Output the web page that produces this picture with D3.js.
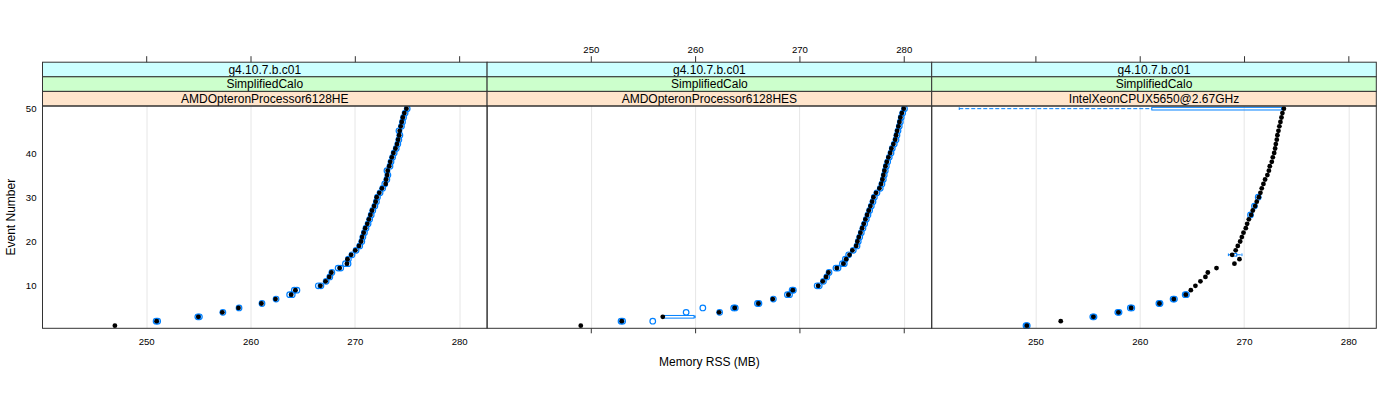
<!DOCTYPE html>
<html>
<head>
<meta charset="utf-8">
<script src="https://cdn.jsdelivr.net/npm/d3@7"></script>
<style>
  body { margin: 0; background: #fff; }
  text { font-family: "Liberation Sans", Arial, Helvetica, sans-serif; fill: #000; }
</style>
</head>
<body>
<svg id="chart" width="1400" height="400"></svg>
<script>
// conditioning levels, one per panel (outer strip first)
var releases = ["g4.10.7.b.c01", "g4.10.7.b.c01", "g4.10.7.b.c01"];
var physLists = ["SimplifiedCalo", "SimplifiedCalo", "SimplifiedCalo"];
var cpus = ["AMDOpteronProcessor6128HE", "AMDOpteronProcessor6128HES", "IntelXeonCPUX5650@2.67GHz"];

var events = d3.range(1, 51);
var xTicks = [250, 260, 270, 280];
var yTicks = [10, 20, 30, 40, 50];

// medians per event (MB)
var medHE = [247.0, 251.0, 255.0, 257.3, 258.85, 261.05, 262.4, 263.9, 264.3, 266.7,
  267.2, 267.55, 267.75, 268.55, 269.25, 269.3, 269.65, 270.05, 270.4, 270.6,
  270.7, 270.85, 271.0, 271.2, 271.35, 271.5, 271.65, 271.85, 272.0, 272.1,
  272.35, 272.6, 272.95, 273.0, 273.1, 273.15, 273.3, 273.4, 273.55, 273.7,
  273.9, 274.05, 274.15, 274.25, 274.3, 274.4, 274.5, 274.6, 274.75, 274.95];
var medHES = [249.04, 252.97, 256.9, 262.3, 263.8, 266.07, 267.45, 268.95, 269.37, 271.8,
  272.24, 272.56, 272.78, 273.59, 274.22, 274.48, 274.8, 275.08, 275.44, 275.56,
  275.7, 275.85, 276.01, 276.17, 276.33, 276.49, 276.65, 276.81, 276.97, 277.1,
  277.35, 277.67, 277.83, 277.96, 278.05, 278.15, 278.25, 278.38, 278.53, 278.7,
  278.82, 279.01, 279.18, 279.27, 279.37, 279.49, 279.59, 279.68, 279.82, 280.0];
var medX5650 = [249.18, 252.43, 255.56, 257.96, 259.18, 261.89, 263.27, 264.42, 264.9, 265.34,
  265.82, 266.3, 266.53, 267.36, 269.08, 269.56, 268.86, 269.2, 269.4, 269.63,
  269.79, 269.95, 270.17, 270.3, 270.46, 270.68, 270.84, 271.06, 271.22, 271.42,
  271.57, 271.7, 271.86, 272.02, 272.24, 272.38, 272.47, 272.66, 272.76, 272.89,
  272.98, 273.05, 273.14, 273.2, 273.3, 273.39, 273.49, 273.59, 273.68, 273.82];

// outliers: [event, MB]
var outHE = [[2,251.1],[2,250.95],[3,255.1],[3,254.95],[4,257.35],[5,258.9],[6,261.1],[7,262.45],
  [8,263.75],[8,264.0],[9,264.2],[9,264.45],[10,266.5],[10,266.75],[11,267.25],[12,267.6],
  [13,267.8],[14,268.4],[14,268.65],[15,269.1],[15,269.35],[16,269.38],[17,269.73],[18,270.12],
  [19,270.47],[20,270.67],[21,270.77],[22,270.92],[23,271.07],[24,271.27],[25,271.42],[26,271.57],
  [27,271.72],[28,271.92],[29,272.07],[30,272.17],[31,272.42],[32,272.67],[33,272.87],[34,273.07],
  [35,273.17],[36,273.08],[37,273.37],[38,273.47],[39,273.62],[40,273.77],[41,273.97],[42,274.12],
  [43,274.22],[44,274.32],[45,274.23],[46,274.47],[47,274.57],[48,274.67],[49,274.82],[50,275.02]];
var outHES = [[2,253.05],[2,252.9],[2,255.94],[4,259.14],[4,262.35],[5,260.74],[5,263.85],[5,263.7],
  [6,266.12],[6,265.98],[7,267.5],[8,268.85],[8,269.05],[9,269.42],[9,269.3],[10,271.7],
  [10,271.9],[11,272.3],[12,272.62],[13,272.84],[14,273.5],[14,273.7],[15,274.12],[15,274.3],
  [16,274.4],[17,274.72],[18,275.16],[19,275.52],[20,275.64],[21,275.78],[22,275.93],[23,276.09],
  [24,276.25],[25,276.41],[26,276.57],[27,276.73],[28,276.89],[29,277.05],[30,277.18],[31,277.43],
  [32,277.75],[33,277.91],[34,278.04],[35,278.13],[36,278.23],[37,278.33],[38,278.46],[39,278.61],
  [40,278.78],[41,278.9],[42,279.09],[43,279.26],[44,279.35],[45,279.45],[46,279.57],[47,279.67],
  [48,279.76],[49,279.9],[50,280.07]];
var outX5650 = [[1,249.22],[1,249.1],[3,255.62],[3,255.5],[4,257.9],[4,258.02],[5,259.24],[5,259.1],
  [6,261.84],[6,261.95],[7,263.33],[7,263.2],[8,264.48],[8,264.36],
  [26,270.62],[28,271.0],[30,271.36]];

// boxes that are visible: [event, q1, q3, lower whisker, upper whisker]
var boxHE = [];
var boxHES = [[3, 256.9, 259.9, 256.9, 260.0]];
var boxX5650 = [[17, 268.86, 269.3, 268.5, 269.8], [50, 261.16, 273.6, 242.7, 273.82]];

var medians = [medHE, medHES, medX5650];
var outliers = [outHE, outHES, outX5650];
var boxes = [boxHE, boxHES, boxX5650];

var blue = "#0080ff";
var frame = "#333";
var stripCols = ["#ccffff", "#ccffcc", "#ffe5cc"];

var plotLeft = 42.5, panelW = 444.6, plotTop = 106, plotBottom = 328.3;
var stripH = 14.6;
var svg = d3.select("#chart");

var x = d3.scaleLinear().domain([240.06, 282.68]).range([0, panelW]);
var y = d3.scaleLinear().domain([0.4, 50.6]).range([plotBottom, plotTop]);
var halfBox = 0.3;

medians.forEach(function(med, p){
  var g = svg.append("g").attr("transform", "translate(" + (plotLeft + p * panelW) + ",0)");

  // vertical reference grid
  g.selectAll("line.grid").data(xTicks).enter().append("line")
    .attr("class", "grid")
    .attr("x1", function(d){ return Math.round(x(d)) + 0.5; })
    .attr("x2", function(d){ return Math.round(x(d)) + 0.5; })
    .attr("y1", plotTop).attr("y2", plotBottom)
    .attr("stroke", "#e6e6e6");

  // boxes and whiskers
  boxes[p].forEach(function(b){
    var cy = y(b[0]), h = y(b[0] - halfBox) - y(b[0] + halfBox);
    g.append("rect")
      .attr("x", x(b[1])).attr("y", cy - h / 2)
      .attr("width", Math.max(0, x(b[2]) - x(b[1]))).attr("height", h)
      .attr("fill", "none").attr("stroke", blue);
    [[b[3], b[1]], [b[2], b[4]]].forEach(function(w){
      if (w[1] - w[0] <= 0) return;
      g.append("line")
        .attr("x1", x(w[0])).attr("x2", x(w[1]))
        .attr("y1", cy).attr("y2", cy)
        .attr("stroke", blue).attr("stroke-dasharray", "4,2");
    });
    [b[3], b[4]].forEach(function(v){
      g.append("line")
        .attr("x1", x(v)).attr("x2", x(v))
        .attr("y1", cy - h / 2).attr("y2", cy + h / 2)
        .attr("stroke", blue);
    });
  });

  // outliers: open blue circles
  g.selectAll("circle.out").data(outliers[p]).enter().append("circle")
    .attr("class", "out")
    .attr("cx", function(d){ return x(d[1]); })
    .attr("cy", function(d){ return y(d[0]); })
    .attr("r", 2.8)
    .attr("fill", "none").attr("stroke", blue).attr("stroke-width", 1.2);

  // medians: filled black dots
  g.selectAll("circle.med").data(events).enter().append("circle")
    .attr("class", "med")
    .attr("cx", function(d, i){ return x(med[i]); })
    .attr("cy", function(d){ return y(d); })
    .attr("r", 2.4)
    .attr("fill", "#000");

  // strips
  var labels = [releases[p], physLists[p], cpus[p]];
  labels.forEach(function(t, k){
    var sy = plotTop - (3 - k) * stripH;
    g.append("rect")
      .attr("x", 0).attr("y", sy).attr("width", panelW).attr("height", stripH)
      .attr("fill", stripCols[k]).attr("stroke", frame);
    g.append("text")
      .attr("x", panelW / 2).attr("y", sy + stripH / 2 + 4.3)
      .attr("text-anchor", "middle").attr("font-size", "12px")
      .text(t);
  });

  // panel frame
  g.append("rect")
    .attr("x", 0).attr("y", plotTop).attr("width", panelW).attr("height", plotBottom - plotTop)
    .attr("fill", "none").attr("stroke", frame);

  // top axis (ticks above strips), labels only on middle panel
  var topAxis = d3.axisTop(x).tickValues(xTicks).tickSize(6).tickPadding(3)
    .tickFormat(p === 1 ? d3.format("d") : function(){ return ""; });
  var ta = g.append("g").attr("transform", "translate(0," + (plotTop - 3 * stripH) + ")").call(topAxis);
  // bottom axis, labels on outer panels
  var botAxis = d3.axisBottom(x).tickValues(xTicks).tickSize(p === 1 ? 5 : 0).tickPadding(p === 1 ? 3 : 10)
    .tickFormat(p !== 1 ? d3.format("d") : function(){ return ""; });
  var ba = g.append("g").attr("transform", "translate(0," + plotBottom + ")").call(botAxis);
  [ta, ba].forEach(function(a){
    a.select(".domain").remove();
    a.selectAll(".tick line").attr("stroke", frame);
    a.selectAll("text").attr("font-size", "9.6px").attr("font-family", null).attr("fill", "#000");
  });

  if (p === 0) {
    var la = g.append("g").call(d3.axisLeft(y).tickValues(yTicks).tickSize(0).tickPadding(6));
    la.select(".domain").remove();
    la.selectAll("text").attr("font-size", "9.6px").attr("font-family", null).attr("fill", "#000");
  }
});

svg.append("text")
  .attr("x", plotLeft + 1.5 * panelW).attr("y", 366)
  .attr("text-anchor", "middle").attr("font-size", "12px")
  .text("Memory RSS (MB)");
svg.append("text")
  .attr("transform", "translate(15," + ((plotTop + plotBottom) / 2) + ") rotate(-90)")
  .attr("text-anchor", "middle").attr("font-size", "12px")
  .text("Event Number");
</script>
</body>
</html>
